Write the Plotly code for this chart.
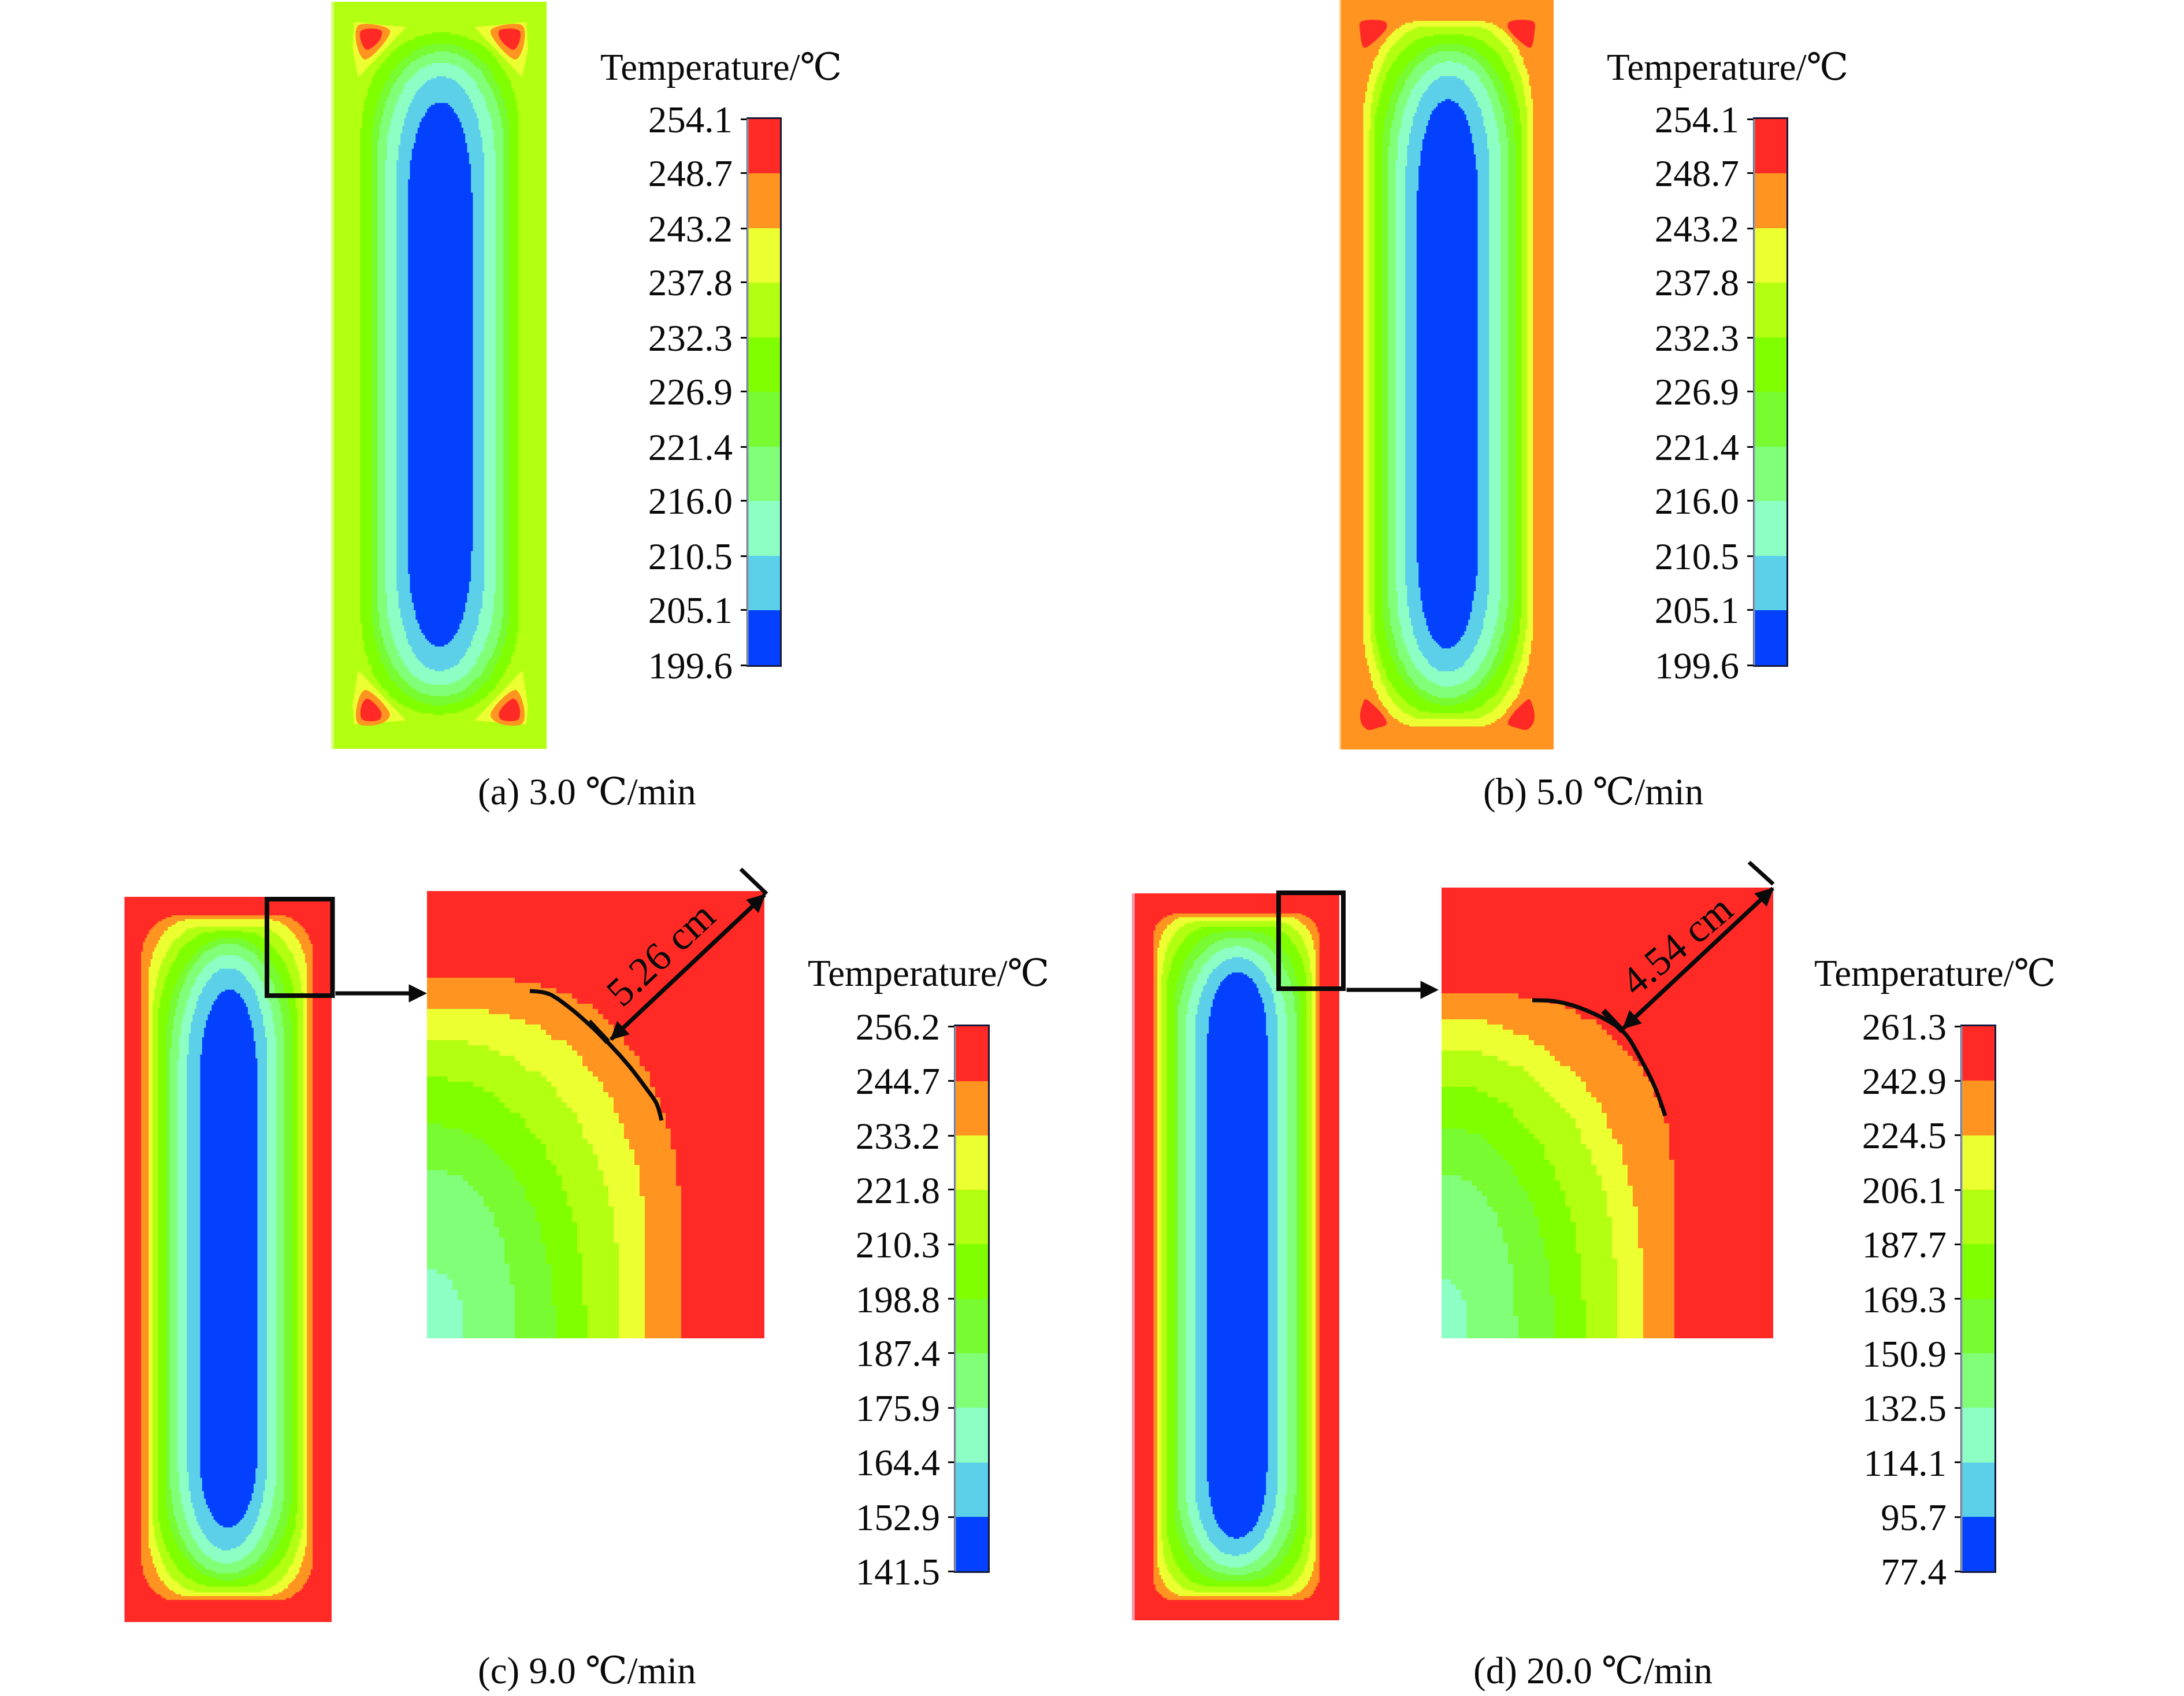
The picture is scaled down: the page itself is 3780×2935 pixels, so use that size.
import numpy as np
import plotly.graph_objects as go

W, H = 3780, 2935
FONT = "Liberation Serif, 'DejaVu Serif', 'Noto Sans CJK SC'"

# band colours, hottest first
band_colors = ["#ff2a26", "#ff9421", "#ecff30", "#b2ff12", "#7fff00",
               "#78fb30", "#82ff78", "#8dffc4", "#5bd0e8", "#0341ff"]
RED, ORANGE, YELLOW, LIME, GREEN, GREEN2, LGREEN, AQUA, CYAN, BLUE = range(10)

# colour-bar tick values
temps_ab = [254.1, 248.7, 243.2, 237.8, 232.3, 226.9, 221.4, 216.0, 210.5, 205.1, 199.6]
temps_c = [256.2, 244.7, 233.2, 221.8, 210.3, 198.8, 187.4, 175.9, 164.4, 152.9, 141.5]
temps_d = [261.3, 242.9, 224.5, 206.1, 187.7, 169.3, 150.9, 132.5, 114.1, 95.7, 77.4]

captions = ["(a) 3.0 ℃/min", "(b) 5.0 ℃/min", "(c) 9.0 ℃/min", "(d) 20.0 ℃/min"]
legend_title = "Temperature/℃"

# isotherm outlines, outer to inner: band, left, right, top, bottom, rx, ry top, ry bottom
a_band = [GREEN, GREEN2, LGREEN, AQUA, CYAN, BLUE]
a_left = [625, 643, 654, 668, 687, 706]
a_right = [898, 882, 872, 857, 838, 817]
a_top = [57, 76, 90, 109, 133, 177]
a_bottom = [1236, 1220, 1205, 1186, 1161, 1119]
a_rx = [136, 119, 109, 94, 75, 55]
a_ry_top = [172, 175, 175, 175, 175, 180]
a_ry_bot = [172, 175, 175, 175, 175, 180]

b_band = [YELLOW, LIME, GREEN, GREEN2, LGREEN, AQUA, CYAN, BLUE]
b_left = [2359, 2371, 2378, 2392, 2403, 2417, 2433, 2453]
b_right = [2654, 2643, 2633, 2622, 2610, 2597, 2578, 2558]
b_top = [37, 45, 61, 75, 88, 107, 131, 173]
b_bottom = [1257, 1245, 1233, 1220, 1208, 1188, 1163, 1122]
b_rx = [95, 100, 105, 115, 103, 90, 72, 52]
b_ry_top = [180, 180, 185, 185, 190, 180, 180, 180]
b_ry_bot = [190, 190, 190, 190, 190, 180, 180, 180]

c_band = [ORANGE, YELLOW, LIME, GREEN, GREEN2, LGREEN, AQUA, CYAN, BLUE]
c_left = [245, 257, 265, 273, 287, 295, 308, 324, 346]
c_right = [542, 532, 525, 515, 505, 493, 480, 463, 445]
c_top = [1584, 1591, 1603, 1612, 1623, 1633, 1652, 1675, 1713]
c_bottom = [2770, 2762, 2755, 2745, 2735, 2723, 2705, 2682, 2643]
c_rx = [65, 72, 85, 100, 109, 99, 86, 69, 49]
c_ry_top = [76, 109, 150, 170, 180, 200, 200, 180, 160]
c_ry_bot = [77, 115, 140, 150, 160, 170, 180, 170, 130]

d_band = [ORANGE, YELLOW, LIME, GREEN, GREEN2, LGREEN, AQUA, CYAN, BLUE]
d_left = [1995, 2003, 2011, 2019, 2032, 2039, 2052, 2068, 2090]
d_right = [2284, 2276, 2269, 2262, 2250, 2243, 2227, 2212, 2193]
d_top = [1582, 1587, 1595, 1603, 1612, 1623, 1638, 1657, 1683]
d_bottom = [2770, 2762, 2754, 2745, 2735, 2725, 2712, 2692, 2662]
d_rx = [38, 50, 60, 75, 85, 95, 87, 72, 51]
d_ry_top = [48, 70, 100, 120, 140, 150, 150, 140, 120]
d_ry_bot = [48, 70, 100, 120, 140, 150, 150, 140, 120]

# magnified corners: band, right, top, rx, ry
ci_band = [ORANGE, YELLOW, LIME, GREEN, GREEN2, LGREEN, AQUA]
ci_right = [1176, 1119, 1070, 1013, 960, 891, 805]
ci_top = [1696, 1749, 1803, 1867, 1947, 2024, 2198]
ci_rx = [317, 317, 305, 265, 220, 150, 65]
ci_ry = [411, 427, 427, 427, 365, 288, 115]

di_band = [ORANGE, YELLOW, LIME, GREEN, GREEN2, LGREEN, AQUA]
di_right = [2894, 2841, 2796, 2742, 2689, 2624, 2541]
di_top = [1720, 1765, 1816, 1877, 1952, 2032, 2213]
di_rx = [320, 328, 295, 246, 193, 123, 45]
di_ry = [320, 453, 416, 435, 363, 280, 96]

# hot spots in the corners of panels a and b (left-hand side; right side mirrors)
a_mirror = 762
a_spots_top = [
    (YELLOW, [613, 703, 620, 610], [38, 47, 134, 85]),
    (ORANGE, [620, 675, 632, 618], [44, 53, 103, 80]),
    (RED, [625, 660, 658, 635, 625], [53, 53, 68, 86, 72]),
]
a_spots_bot = [
    (YELLOW, [620, 703, 613, 610], [1160, 1247, 1254, 1220]),
    (ORANGE, [632, 675, 660, 620, 618], [1194, 1237, 1252, 1252, 1220]),
    (RED, [635, 660, 657, 627, 625], [1209, 1233, 1245, 1245, 1224]),
]
b_mirror = 2505
b_spots_top = [(RED, [2355, 2398, 2400, 2365, 2360, 2354], [38, 38, 48, 82, 82, 55])]
b_spots_bot = [(RED, [2363, 2377, 2395, 2400, 2383, 2368, 2357, 2354, 2359],
                [1210, 1220, 1240, 1253, 1260, 1263, 1253, 1237, 1217])]

# annotation curves on the magnified corners
c_arc_x = [917, 950, 986, 1023, 1056, 1089, 1118, 1136, 1145]
c_arc_y = [1715, 1720, 1744, 1776, 1808, 1845, 1883, 1909, 1939]
d_arc_x = [2652, 2693, 2747, 2808, 2841, 2865, 2882]
d_arc_y = [1731, 1733, 1749, 1784, 1835, 1883, 1931]


def outline(L, R, T, B, rx, ryt, ryb, n=2.1):
    t = np.linspace(0, np.pi / 2, 40)
    c, s = np.cos(t) ** (2 / n), np.sin(t) ** (2 / n)
    xs = np.r_[L + rx - rx * c, R - rx + rx * c[::-1], R - rx + rx * c, L + rx - rx * c[::-1]]
    ys = np.r_[T + ryt - ryt * s, T + ryt - ryt * s[::-1], B - ryb + ryb * s, B - ryb + ryb * s[::-1]]
    return xs, ys


def blocky(xs, ys, cx, cy):
    return np.round(np.r_[xs, xs[0]] / cx) * cx, np.round(np.r_[ys, ys[0]] / cy) * cy


fig = go.Figure()
layout = {}
shapes = []
annos = []
n_axes = 0


def new_axes(x0, x1, y0, y1, xr=None, yr=None):
    global n_axes
    n_axes += 1
    k = "" if n_axes == 1 else str(n_axes)
    layout["xaxis" + k] = dict(domain=[x0 / W, x1 / W], range=xr or [x0, x1], visible=False,
                               anchor="y" + k, fixedrange=True, automargin=False)
    layout["yaxis" + k] = dict(domain=[1 - y1 / H, 1 - y0 / H], range=yr or [y1, y0], visible=False,
                               anchor="x" + k, fixedrange=True, automargin=False)
    return "x" + k, "y" + k, k


def poly(xa, ya, xs, ys, color, shape="linear"):
    fig.add_trace(go.Scatter(x=list(xs), y=list(ys), xaxis=xa, yaxis=ya, mode="lines", fill="toself",
                             fillcolor=color, line=dict(width=0, color=color, shape=shape),
                             hoverinfo="skip", showlegend=False))


def panel(x0, x1, y0, y1, strip_x, strip_color, bg, band, left, right, top, bottom, rx, ryt, ryb, spots=None, mirror=None):
    xa, ya, _ = new_axes(x0, x1, y0, y1)
    poly(xa, ya, [x0, x1, x1, x0, x0], [y0, y0, y1, y1, y0], band_colors[bg])
    poly(xa, ya, [x0, strip_x, strip_x, x0, x0], [y0, y0, y1, y1, y0], strip_color)
    for b, l, r, t, bo, a, p, q in zip(band, left, right, top, bottom, rx, ryt, ryb):
        xs, ys = outline(l, r, t, bo, a, p, q)
        xs, ys = blocky(xs, ys, 3.3, 3.3)
        poly(xa, ya, xs, ys, band_colors[b], "hv")
    for s in (spots or []):
        for b, px, py in s:
            kind = "linear" if b == YELLOW else "spline"
            poly(xa, ya, px + px[:1], py + py[:1], band_colors[b], kind)
            mx = [2 * mirror - v for v in px]
            poly(xa, ya, mx + mx[:1], py + py[:1], band_colors[b], kind)


def inset(x0, x1, y0, y1, band, right, top, rx, ry, arc_x, arc_y):
    xa, ya, _ = new_axes(x0, x1, y0, y1)
    poly(xa, ya, [x0, x1, x1, x0, x0], [y0, y0, y1, y1, y0], band_colors[RED])
    for b, r, t, a, p in zip(band, right, top, rx, ry):
        xs, ys = outline(x0 - 900, r, t, y1 + 900, a, p, p)
        xs, ys = blocky(xs, ys, 9, 9)
        poly(xa, ya, xs, ys, band_colors[b], "hv")
    fig.add_trace(go.Scatter(x=arc_x, y=arc_y, xaxis=xa, yaxis=ya, mode="lines",
                             line=dict(color="#0a0a0a", width=7, shape="spline"),
                             hoverinfo="skip", showlegend=False))


def colorbar(x0, x1, y0, y1, temps):
    xa, ya, k = new_axes(x0, x1, y0, y1, xr=[-0.5, 0.5], yr=[temps[-1], temps[0]])
    for i in range(10):
        fig.add_trace(go.Bar(x=[0], y=[temps[i] - temps[i + 1]], base=[temps[i + 1]], width=[1],
                             xaxis=xa, yaxis=ya, marker=dict(color=band_colors[i], line=dict(width=0)),
                             hoverinfo="skip", showlegend=False))
    layout["yaxis" + k].update(visible=True, showgrid=False, zeroline=False, showline=True, mirror=True,
                               linecolor="#14183a", linewidth=3, ticks="outside", ticklen=10, tickwidth=3,
                               tickcolor="#0a0a0a", tickmode="array", tickvals=temps,
                               ticktext=[f"{v:.1f}" for v in temps], ticklabelstandoff=1,
                               tickfont=dict(family=FONT, size=65, color="#0a0a0a"))
    layout["xaxis" + k].update(visible=True, showgrid=False, zeroline=False, showline=True, mirror=True,
                               linecolor="#14183a", linewidth=3, ticks="", showticklabels=False)
    shapes.append(dict(type="line", xref="paper", yref="paper", x0=(x0 - 1) / W, x1=(x0 - 1) / W,
                       y0=1 - y0 / H, y1=1 - y1 / H, line=dict(color="#8a94a8", width=3)))


def text(x, y, s, size=62, angle=0):
    annos.append(dict(xref="paper", yref="paper", x=x / W, y=1 - y / H, text=s, showarrow=False,
                      textangle=angle, xanchor="center", yanchor="middle",
                      font=dict(family=FONT, size=size, color="#0a0a0a")))


def arrow(x_tip, y_tip, x_tail, y_tail, width=7):
    annos.append(dict(xref="paper", yref="paper", x=x_tip / W, y=1 - y_tip / H, ax=x_tail - x_tip,
                      ay=y_tail - y_tip, axref="pixel", ayref="pixel", text="", showarrow=True,
                      arrowhead=2, arrowsize=0.9, arrowwidth=width, arrowcolor="#0a0a0a"))


def seg(x0, y0, x1, y1, width=7):
    shapes.append(dict(type="line", xref="paper", yref="paper", x0=x0 / W, x1=x1 / W, y0=1 - y0 / H, y1=1 - y1 / H,
                       line=dict(color="#0a0a0a", width=width)))


def box(x0, y0, x1, y1, width=8):
    shapes.append(dict(type="rect", xref="paper", yref="paper", x0=x0 / W, x1=x1 / W, y0=1 - y0 / H, y1=1 - y1 / H,
                       line=dict(color="#0a0a0a", width=width), fillcolor="rgba(0,0,0,0)"))


panel(573, 946, 3, 1296, 578, "#d8ff80", LIME, a_band, a_left, a_right, a_top, a_bottom, a_rx, a_ry_top, a_ry_bot,
      [a_spots_top, a_spots_bot], a_mirror)
panel(2318, 2689, 0, 1297, 2321, "#ffd090", ORANGE, b_band, b_left, b_right, b_top, b_bottom, b_rx, b_ry_top, b_ry_bot,
      [b_spots_top, b_spots_bot], b_mirror)
panel(215, 574, 1552, 2807, 216, "#ff8090", RED, c_band, c_left, c_right, c_top, c_bottom, c_rx, c_ry_top, c_ry_bot)
panel(1959, 2318, 1546, 2804, 1964, "#ff98a8", RED, d_band, d_left, d_right, d_top, d_bottom, d_rx, d_ry_top, d_ry_bot)

inset(739, 1323, 1542, 2316, ci_band, ci_right, ci_top, ci_rx, ci_ry, c_arc_x, c_arc_y)
inset(2495, 3069, 1536, 2316, di_band, di_right, di_top, di_rx, di_ry, d_arc_x, d_arc_y)

colorbar(1295, 1350, 206, 1151, temps_ab)
colorbar(3037, 3092, 206, 1151, temps_ab)
colorbar(1654, 1710, 1776, 2719, temps_c)
colorbar(3396, 3452, 1776, 2719, temps_d)

text(1248, 116, legend_title, 65)
text(2990, 116, legend_title, 65)
text(1607, 1684, legend_title, 65)
text(3349, 1684, legend_title, 65)
text(1016, 1370, captions[0], 65)
text(2757, 1370, captions[1], 65)
text(1016, 2891, captions[2], 65)
text(2757, 2891, captions[3], 65)
text(1144, 1651, "5.26 cm", 70, -43)
text(2902, 1635, "4.54 cm", 70, -40)

box(462, 1556, 575.5, 1723)
box(2213, 1545, 2325, 1711)
arrow(739, 1719, 579, 1719)
arrow(2490, 1713, 2329, 1713)
arrow(3070, 1536, 2808, 1781)
arrow(2808, 1781, 3070, 1536)
arrow(1325, 1547, 1056, 1800)
arrow(1056, 1800, 1325, 1547)
seg(1282, 1504, 1327, 1547)
seg(3027, 1492, 3069, 1530)
seg(1019, 1768, 1052, 1803, 10)
seg(2775, 1749, 2808, 1784, 10)

fig.update_layout(width=W, height=H, margin=dict(l=0, r=0, t=0, b=0, autoexpand=False), paper_bgcolor="white",
                  plot_bgcolor="white", barmode="overlay", bargap=0, showlegend=False, shapes=shapes,
                  annotations=annos, **layout)
fig.write_html("out.html", post_script="document.body.style.margin='0';", config={"displayModeBar": False})
